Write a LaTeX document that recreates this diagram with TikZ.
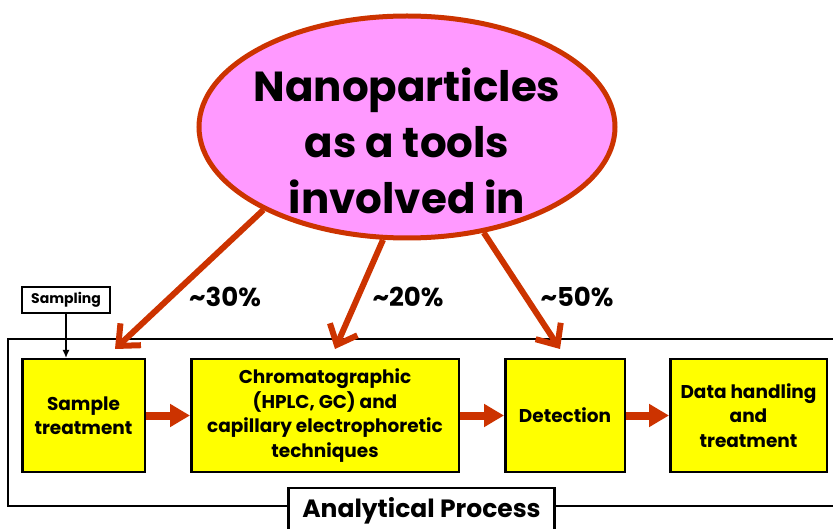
\documentclass[tikz,border=0pt]{standalone}
\usepackage{fontspec}
\setmainfont{Poppins}
\usetikzlibrary{arrows.meta, positioning, shapes.geometric}
\definecolor{npred}{HTML}{CC3300}
\definecolor{nppink}{HTML}{FF99FF}
\definecolor{stageyellow}{HTML}{FFFF00}

\begin{document}
\begin{tikzpicture}[x=1pt, y=-1pt,
		stage/.style={draw=black, line width=2.5pt, fill=stageyellow, minimum height=112.5pt, align=center, inner sep=2pt, font=\fontsize{18.5}{24.5}\selectfont\bfseries},
		flow/.style={draw=npred, line width=8pt, -{Triangle[length=20pt,width=22pt]}},
		share/.style={draw=npred, line width=6pt, line join=round, -{Straight Barb[length=17pt,width=30pt]}},
		pct/.style={font=\fontsize{26}{30}\selectfont\bfseries}]
			\useasboundingbox (0,0) rectangle (833,529);
			\clip (0,0) rectangle (833,529);
			% Frame
			\draw[line width=2.5pt] (8,339) rectangle (850,506);
			\node[draw, line width=2.5pt, fill=white, minimum width=266pt, minimum height=46pt, font=\fontsize{25}{28}\selectfont\bfseries] (ap) at (421.5,511) {Analytical Process};
			
			% Stages
			\node[stage, minimum width=122.5pt] (st) at (83.5,415.5) {Sample\\treatment};
			\node[stage, minimum width=267.5pt, right=44pt of st] (ch) {Chromatographic\\(HPLC, GC) and\\capillary electrophoretic\\techniques};
			\node[stage, minimum width=119.5pt, right=44pt of ch] (det) {Detection};
			\node[stage, minimum width=156.5pt, right=43pt of det] (dh) {Data handling\\and\\treatment};
			
			\draw[flow] (st) -- (ch);
			\draw[flow] (ch) -- (det);
			\draw[flow] (det) -- (dh);
			
			% Sampling
			\node[draw, line width=2pt, minimum width=88pt, minimum height=26pt, inner sep=1pt, font=\fontsize{14}{16}\selectfont\bfseries] (samp) at (66,300) {Sampling};
			\draw[line width=1.5pt, -{Latex[length=8pt,width=7pt]}] (samp.south) -- (samp.south |- st.north);
			
			% Nanoparticles
			\node[ellipse, draw=npred, line width=5pt, fill=nppink, minimum width=416pt, minimum height=222pt, inner sep=0pt] (np) at (407,127) {};
			\node[align=center, font=\fontsize{42}{56}\selectfont\bfseries] (npt) at (407,141) {Nanoparticles\\as a tools\\involved in};
			
			\coordinate (t1) at (115,349);
			\coordinate (t2) at (335,349);
			\coordinate (t3) at (560,349);
			\draw[share] (np.210) -- (t1);
			\draw[share] (np.258) -- (t2);
			\draw[share] (np.306) -- (t3);
			\node[pct] (p1) at (225,297) {\textasciitilde 30\%};
			\node[pct] (p2) at (408,297) {\textasciitilde 20\%};
			\node[pct] (p3) at (577,297) {\textasciitilde 50\%};
\end{tikzpicture}
\end{document}
